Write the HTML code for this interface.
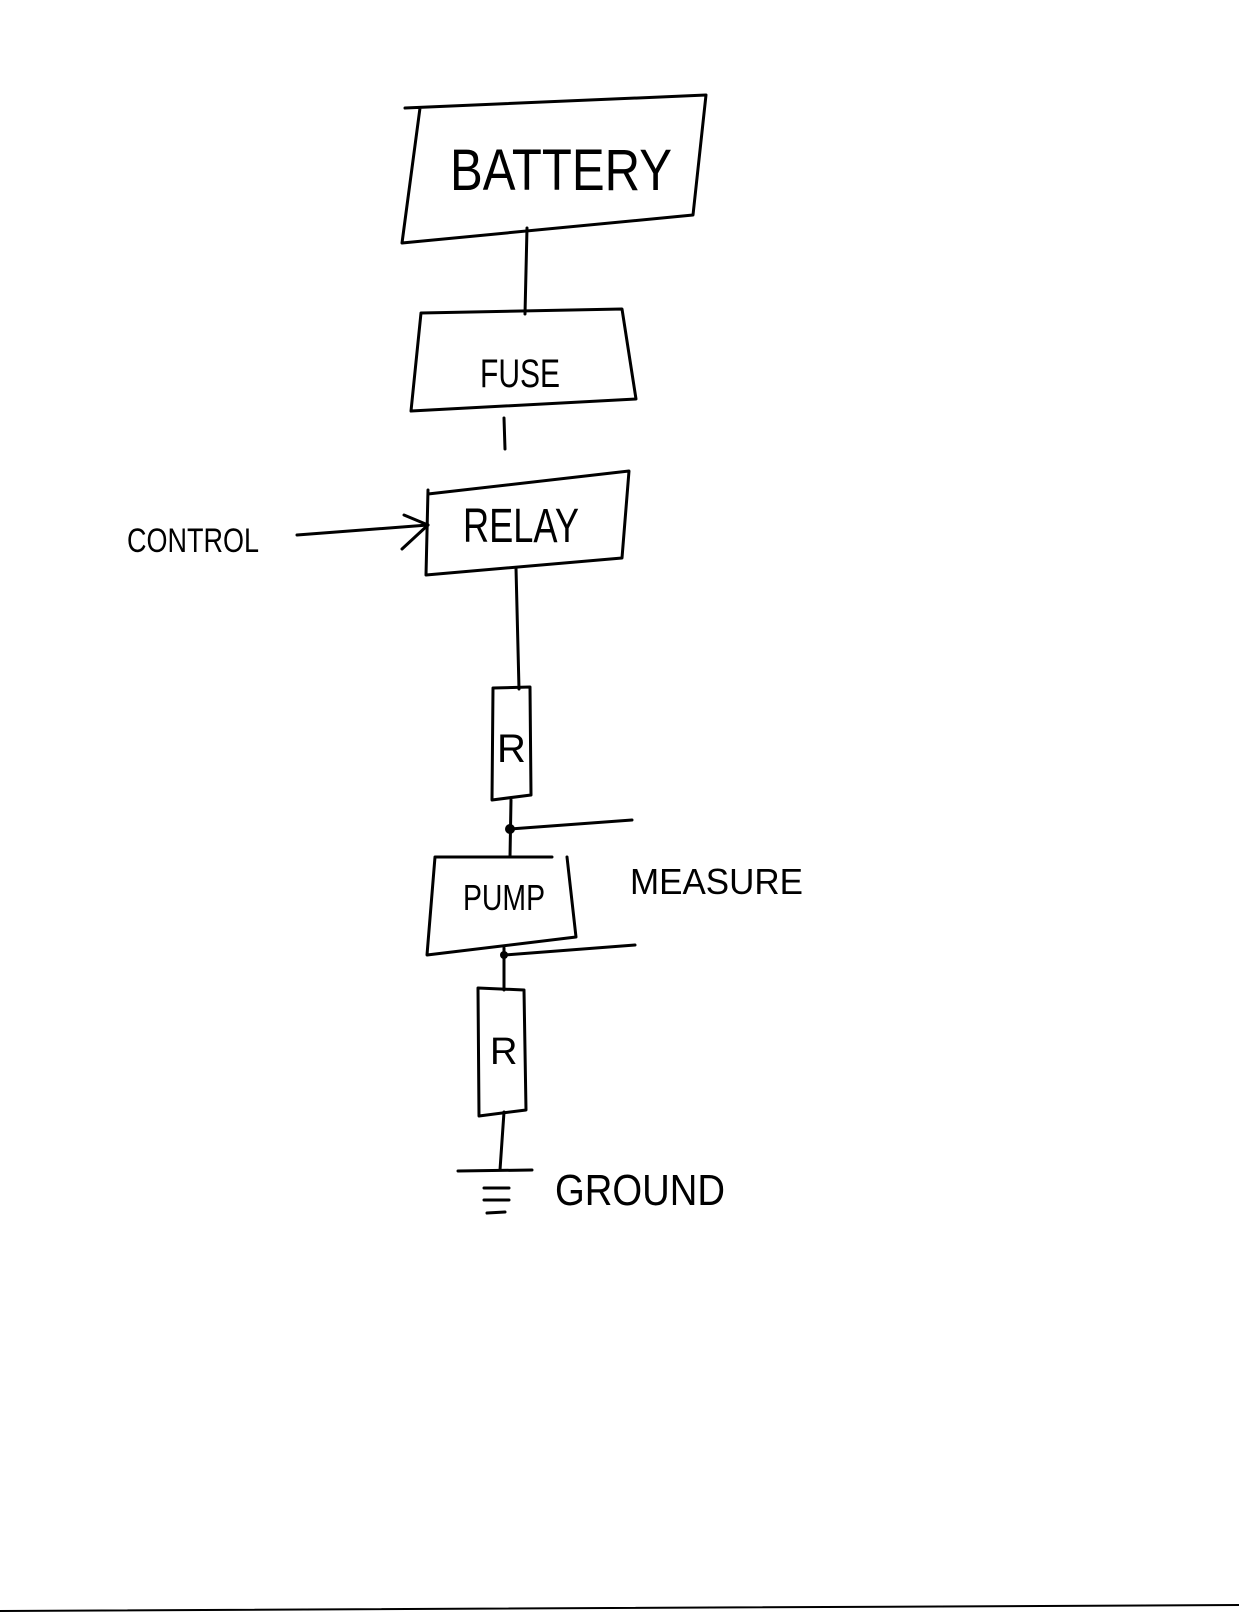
<!DOCTYPE html>
<html><head><meta charset="utf-8"><style>
html,body{margin:0;padding:0;background:#fff;}
svg{display:block;}
text{font-family:"Liberation Sans",sans-serif;fill:#000;}
</style></head><body>
<svg width="1239" height="1614" viewBox="0 0 1239 1614" xmlns="http://www.w3.org/2000/svg">
<g fill="none" stroke="#000" stroke-width="3" stroke-linejoin="round" stroke-linecap="round">
<!-- battery -->
<path d="M405,108 L706,95 L693,215 L402,243 L420,108"/>
<!-- battery-fuse -->
<path d="M527,228 L525,314"/>
<!-- fuse -->
<path d="M421,313 L622,309 L636,399 L411,411 Z"/>
<path d="M504,418 L505,449"/>
<!-- relay -->
<path d="M428,494 L629,471 L622,558 L426,575 L428,490"/>
<!-- control arrow -->
<path d="M297,535 L428,525"/>
<path d="M404,515 L428,525 L402,549"/>
<!-- relay to R1 -->
<path d="M516,568 L519,689"/>
<!-- R1 -->
<path d="M493,688 L530,687 L531,795 L492,800 Z"/>
<path d="M511,800 L510,857"/>
<path d="M510,829 L632,820"/>
<!-- pump -->
<path d="M435,857 L552,857 M567,857 L576,937 L427,955 L435,857"/>
<path d="M504,948 L504,990"/>
<path d="M504,955 L635,945"/>
<!-- R2 -->
<path d="M478,988 L524,990 L526,1110 L479,1116 Z"/>
<path d="M504,1112 L500,1170"/>
<!-- ground -->
<path d="M458,1171 L532,1170 M484,1188 L509,1188 M484,1200 L509,1200 M487,1213 L505,1212"/>
<!-- page bottom edge -->
<path d="M0,1611 L1239,1605" stroke-width="2"/>
</g>
<circle cx="510" cy="829" r="5" fill="#000"/>
<circle cx="504" cy="955" r="4" fill="#000"/>
<text x="450" y="190" font-size="58" textLength="222" lengthAdjust="spacingAndGlyphs">BATTERY</text>
<text x="480" y="387" font-size="40" textLength="80" lengthAdjust="spacingAndGlyphs">FUSE</text>
<text x="463" y="542" font-size="48" textLength="116" lengthAdjust="spacingAndGlyphs">RELAY</text>
<text x="127" y="552" font-size="34" textLength="132" lengthAdjust="spacingAndGlyphs">CONTROL</text>
<text x="497" y="762" font-size="40">R</text>
<text x="463" y="910" font-size="36" textLength="82" lengthAdjust="spacingAndGlyphs">PUMP</text>
<text x="630" y="894" font-size="36" textLength="173" lengthAdjust="spacingAndGlyphs">MEASURE</text>
<text x="490" y="1064" font-size="38">R</text>
<text x="555" y="1205" font-size="44" textLength="170" lengthAdjust="spacingAndGlyphs">GROUND</text>
</svg>
</body></html>
